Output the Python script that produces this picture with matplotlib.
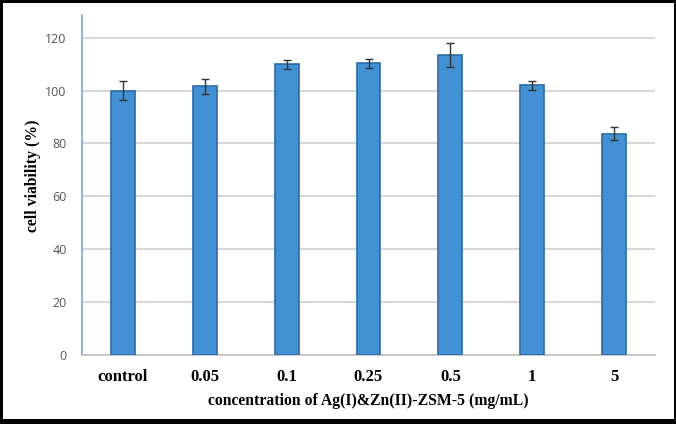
import matplotlib
matplotlib.use("Agg")
import matplotlib.pyplot as plt
from matplotlib.patches import Rectangle

categories = ["control", "0.05", "0.1", "0.25", "0.5", "1", "5"]
viability = [100.0, 101.6, 109.9, 110.3, 113.4, 102.1, 83.7]
errors = [3.7, 2.7, 1.8, 1.7, 4.6, 1.7, 2.4]
y_ticks = [0, 20, 40, 60, 80, 100, 120]

fig = plt.figure(figsize=(6.76, 4.24), dpi=100)
fig.patch.set_facecolor("black")
# white inner panel inside the black frame
fig.patches.append(Rectangle((3 / 676, 5 / 424), 671 / 676, 416 / 424,
                             transform=fig.transFigure, facecolor="white",
                             edgecolor="none", zorder=-10))

ax = fig.add_axes([82 / 676, 69 / 424, 573 / 676, 340 / 424])
ax.set_zorder(5)
ax.set_facecolor("none")

x = range(len(categories))
ax.bar(x, viability, width=0.29, color="#4390D2", edgecolor="#2A6CA8",
       linewidth=1.2, zorder=3)
ax.errorbar(x, viability, yerr=errors, fmt="none", ecolor="#333333",
            elinewidth=1.0, capsize=3, capthick=1.0, zorder=4)

ax.set_xlim(-0.5, len(categories) - 0.5)
ax.set_ylim(0, 128.6)
ax.set_yticks(y_ticks)
ax.yaxis.grid(True, color="#D0D0D0", linewidth=1.2, zorder=0)
ax.set_axisbelow(True)

for s in ["top", "right"]:
    ax.spines[s].set_visible(False)
ax.spines["left"].set_color("#7FA7D6")
ax.spines["left"].set_linewidth(1.2)
ax.spines["bottom"].set_color("#BFBFBF")
ax.spines["bottom"].set_linewidth(1.2)

ax.tick_params(axis="both", length=0)
ax.tick_params(axis="y", pad=11, labelsize=9, labelcolor="#555555")
ax.tick_params(axis="x", pad=10)
for lab in ax.get_yticklabels():
    lab.set_fontfamily("Open Sans")

ax.set_xticks(list(x))
ax.set_xticklabels(categories, fontfamily="Liberation Serif",
                   fontweight="bold", fontsize=12)

ax.set_ylabel("cell viability (%)", fontfamily="Liberation Serif",
              fontweight="bold", fontsize=11.3)
ax.yaxis.set_label_coords(-41 / 573, 0.527)
ax.set_xlabel("concentration of Ag(I)&Zn(II)-ZSM-5 (mg/mL)",
              fontfamily="Liberation Serif", fontweight="bold", fontsize=11.3,
              labelpad=6)

fig.savefig("out.png", dpi=100, facecolor=fig.get_facecolor())
